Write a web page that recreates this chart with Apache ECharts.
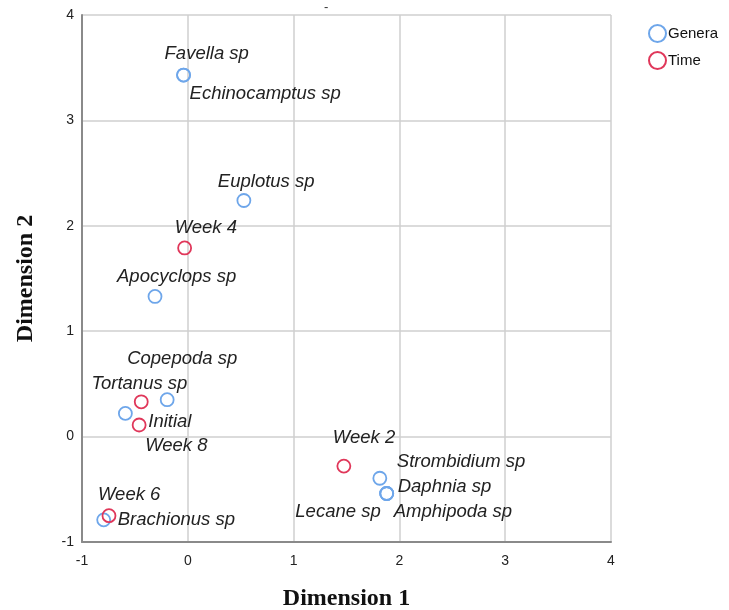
<!DOCTYPE html>
<html>
<head>
<meta charset="utf-8">
<script src="https://cdn.jsdelivr.net/npm/echarts@6/dist/echarts.min.js"></script>
<style>
  html, body { margin: 0; padding: 0; background: #fff; }
  #chart { width: 729px; height: 610px; }
</style>
</head>
<body>
<div id="chart"></div>
<script>
// Joint plot of category points: genera and sampling times
const generaNames = ['Favella sp', 'Echinocamptus sp', 'Euplotus sp', 'Apocyclops sp', 'Copepoda sp',
  'Tortanus sp', 'Strombidium sp', 'Daphnia sp', 'Amphipoda sp', 'Lecane sp', 'Brachionus sp'];
const generaDim1 = [-0.04, -0.04, 0.53, -0.31, -0.195, -0.59, 1.815, 1.88, 1.88, 1.88, -0.795];
const generaDim2 = [3.43, 3.43, 2.24, 1.33, 0.35, 0.22, -0.395, -0.54, -0.54, -0.54, -0.79];

const timeNames = ['Initial', 'Week 2', 'Week 4', 'Week 6', 'Week 8'];
const timeDim1 = [-0.44, 1.475, -0.03, -0.745, -0.46];
const timeDim2 = [0.33, -0.28, 1.79, -0.75, 0.11];

const axisTicks = [-1, 0, 1, 2, 3, 4];

// label placement: [dx, dy, align] relative to the point centre
const generaLabelPlace = [
  [-19, -21, 'left'], [6, 19, 'left'], [-26, -19, 'left'], [-38, -20, 'left'], [-40, -41, 'left'],
  [-34, -30, 'left'], [17, -16, 'left'], [11, -7, 'left'], [7, 18, 'left'], [-6, 18, 'right'], [14, 0, 'left']
];
const timeLabelPlace = [
  [7, 20, 'left'], [-11, -28, 'left'], [-10, -20, 'left'], [-11, -21, 'left'], [6, 21, 'left']
];

const BLUE = '#6ea6ea';
const RED = '#e0375a';

function buildPoints(names, xs, ys, place) {
  return names.map((n, i) => ({
    name: n,
    value: [xs[i], ys[i]],
    label: {
      show: true,
      position: 'inside',
      offset: [place[i][0], place[i][1]],
      align: place[i][2],
      verticalAlign: 'middle'
    }
  }));
}

const labelStyle = {
  formatter: p => p.name,
  fontFamily: 'Liberation Sans, Arial, sans-serif',
  fontStyle: 'italic',
  fontSize: 18.5,
  color: '#222'
};

const chart = echarts.init(document.getElementById('chart'), null, { renderer: 'canvas' });
chart.setOption({
  backgroundColor: '#fff',
  animation: false,
  grid: { left: 82, right: 118, top: 15, bottom: 68, containLabel: false, outerBoundsMode: 'none' },
  legend: {
    orient: 'vertical',
    left: 643,
    top: 19,
    itemWidth: 17,
    itemHeight: 17,
    itemGap: 8,
    textStyle: { fontFamily: 'Liberation Sans, Arial, sans-serif', fontSize: 15, color: '#111', padding: [0, 0, 0, -3] },
    data: ['Genera', 'Time']
  },
  xAxis: {
    type: 'value',
    min: axisTicks[0],
    max: axisTicks[axisTicks.length - 1],
    interval: 1,
    name: 'Dimension 1',
    nameLocation: 'middle',
    nameGap: 45,
    nameTextStyle: { fontFamily: 'Liberation Serif, Times New Roman, serif', fontWeight: 'bold', fontSize: 24, color: '#111' },
    axisLine: { show: true, onZero: false, lineStyle: { color: '#8a8a8a', width: 2 } },
    axisTick: { show: false },
    axisLabel: { margin: 12, fontFamily: 'Liberation Sans, Arial, sans-serif', fontSize: 14, color: '#222' },
    splitLine: { show: true, lineStyle: { color: '#cfcfcf', width: 1.5 } }
  },
  yAxis: {
    type: 'value',
    min: axisTicks[0],
    max: axisTicks[axisTicks.length - 1],
    interval: 1,
    name: 'Dimension 2',
    nameLocation: 'middle',
    nameGap: 44,
    nameRotate: 90,
    nameTextStyle: { fontFamily: 'Liberation Serif, Times New Roman, serif', fontWeight: 'bold', fontSize: 24, color: '#111' },
    axisLine: { show: true, onZero: false, lineStyle: { color: '#8a8a8a', width: 2 } },
    axisTick: { show: false },
    axisLabel: { margin: 8, fontFamily: 'Liberation Sans, Arial, sans-serif', fontSize: 14, color: '#222' },
    splitLine: { show: true, lineStyle: { color: '#cfcfcf', width: 1.5 } }
  },
  graphic: [{
    type: 'text', left: 324, top: 1,
    style: { text: '-', fontFamily: 'Liberation Sans, Arial, sans-serif', fontSize: 13, fill: '#333' }
  }],
  series: [
    {
      name: 'Genera',
      type: 'scatter',
      symbol: 'circle',
      symbolSize: 13,
      itemStyle: { color: 'rgba(255,255,255,0)', borderColor: BLUE, borderWidth: 1.8, opacity: 1 },
      label: labelStyle,
      data: buildPoints(generaNames, generaDim1, generaDim2, generaLabelPlace)
    },
    {
      name: 'Time',
      type: 'scatter',
      symbol: 'circle',
      symbolSize: 13,
      itemStyle: { color: 'rgba(255,255,255,0)', borderColor: RED, borderWidth: 1.8, opacity: 1 },
      label: labelStyle,
      data: buildPoints(timeNames, timeDim1, timeDim2, timeLabelPlace)
    }
  ]
});
</script>
</body>
</html>
